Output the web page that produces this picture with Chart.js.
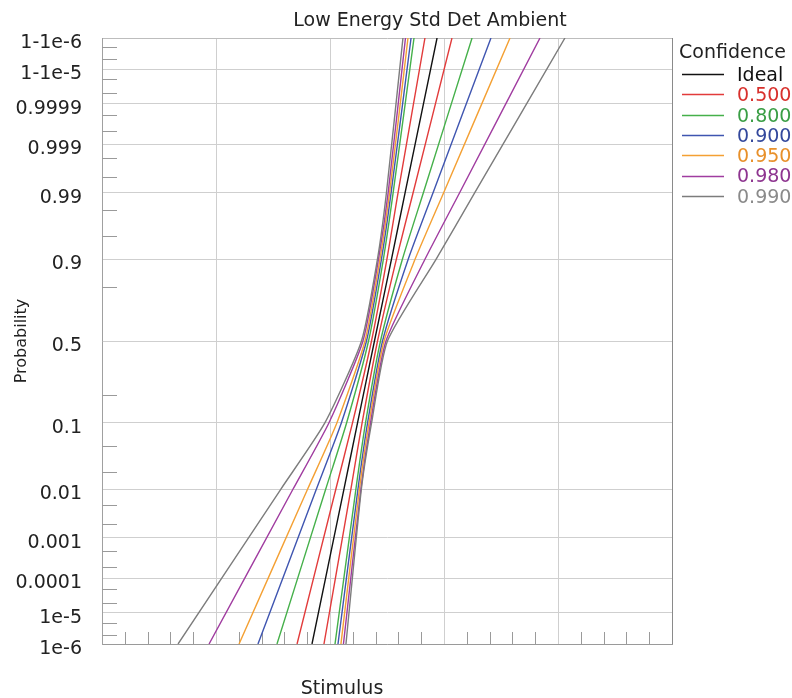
<!DOCTYPE html>
<html>
<head>
<meta charset="utf-8">
<script src="https://cdn.jsdelivr.net/npm/chart.js@4.4.0/dist/chart.umd.min.js"></script>
<style>
  body { margin: 0; background: #fff; }
</style>
</head>
<body>
<canvas id="probChart" width="792" height="698"></canvas>
<script>
const levelProbs = [1e-6, 0.01, 0.1, 0.5, 0.9, 0.99, 1 - 1e-6];

// stimulus values (arbitrary units, axis 0..50) at each level
const idealX = [18.42, 21.22, 22.42, 23.90, 25.39, 26.59, 29.39];
const c500Lo = [17.11, 20.51, 21.98, 23.64, 24.99, 25.97, 28.33];
const c500Hi = [19.47, 21.83, 22.82, 24.17, 25.82, 27.29, 30.70];
const c800Lo = [15.35, 19.62, 21.46, 23.38, 24.68, 25.54, 27.37];
const c800Hi = [20.44, 22.27, 23.12, 24.43, 26.35, 28.19, 32.46];
const c900Lo = [13.68, 18.80, 21.00, 23.20, 24.51, 25.36, 27.11];
const c900Hi = [20.70, 22.45, 23.30, 24.61, 26.86, 29.04, 34.12];
const c950Lo = [12.02, 18.03, 20.61, 23.07, 24.38, 25.23, 26.84];
const c950Hi = [20.96, 22.58, 23.43, 24.74, 27.46, 29.97, 35.79];
const c980Lo = [9.39, 16.75, 19.91, 22.89, 24.25, 25.10, 26.62];
const c980Hi = [21.18, 22.71, 23.56, 24.91, 28.33, 31.37, 38.42];
const c990Lo = [6.67, 15.68, 19.56, 22.76, 24.16, 24.95, 26.40];
const c990Hi = [21.40, 22.75, 23.65, 25.04, 29.30, 32.70, 40.61];

const legendLabels = ["Ideal", "0.500", "0.800", "0.900", "0.950", "0.980", "0.990"];
const lineColors = ["#111111", "#e23b3b", "#45b04a", "#3f55b0", "#f4a033", "#a03ca0", "#7c7c7c"];
const textColors = ["#111111", "#d8302c", "#3a9e45", "#33489c", "#e8902a", "#8e3590", "#8a8a8a"];

const yTickProbs = [1e-6, 1e-5, 1e-4, 1e-3, 0.01, 0.1, 0.5, 0.9, 0.99, 0.999, 0.9999, 1 - 1e-5, 1 - 1e-6];
const yTickLabels = ["1e-6", "1e-5", "0.0001", "0.001", "0.01", "0.1", "0.5", "0.9", "0.99", "0.999", "0.9999", "1-1e-5", "1-1e-6"];
const yMinorProbs = [2e-6, 5e-6, 2e-5, 5e-5, 2e-4, 5e-4, 0.002, 0.005, 0.02, 0.05, 0.2,
  0.8, 0.95, 0.98, 0.995, 0.998, 0.9995, 0.9998, 0.99995, 0.99998, 0.999995, 0.999998];
const xMajorTicks = [0, 10, 20, 30, 40, 50];
const xMinorTicks = [2, 4, 6, 8, 12, 14, 16, 18, 22, 24, 26, 28, 32, 34, 36, 38, 42, 44, 46, 48];

// inverse normal cdf (Acklam), used for the probit y axis
function probit(p) {
  const a = [-39.69683028665376, 220.9460984245205, -275.9285104469687, 138.3577518672690, -30.66479806614716, 2.506628277459239];
  const b = [-54.47609879822406, 161.5858368580409, -155.6989798598866, 66.80131188771972, -13.28068155288572];
  const c = [-0.007784894002430293, -0.3223964580411365, -2.400758277161838, -2.549671010739305, 4.374664141464968, 2.938163982698783];
  const d = [0.007784695709041462, 0.3224671290700398, 2.445134137142996, 3.754408661907416];
  const tail = q => (((((c[0] * q + c[1]) * q + c[2]) * q + c[3]) * q + c[4]) * q + c[5]) /
    ((((d[0] * q + d[1]) * q + d[2]) * q + d[3]) * q + 1);
  if (p < 0.02425) return tail(Math.sqrt(-2 * Math.log(p)));
  if (p > 1 - 0.02425) return -tail(Math.sqrt(-2 * Math.log(1 - p)));
  const q = p - 0.5, r = q * q;
  return (((((a[0] * r + a[1]) * r + a[2]) * r + a[3]) * r + a[4]) * r + a[5]) * q /
    (((((b[0] * r + b[1]) * r + b[2]) * r + b[3]) * r + b[4]) * r + 1);
}

const zMin = probit(1e-6);
const zMax = -zMin;
const levelZ = levelProbs.map((p, i) => i === levelProbs.length - 1 ? zMax : (i === 0 ? zMin : probit(p)));
const toPoints = xs => xs.map((x, i) => ({ x, y: levelZ[i] }));

const bounds = [[c500Lo, c500Hi], [c800Lo, c800Hi], [c900Lo, c900Hi], [c950Lo, c950Hi], [c980Lo, c980Hi], [c990Lo, c990Hi]];
const datasets = [];
bounds.slice().reverse().forEach((pair, k) => {
  const i = bounds.length - k;
  pair.forEach(xs => datasets.push({ label: legendLabels[i], data: toPoints(xs), borderColor: lineColors[i] }));
});
datasets.push({ label: legendLabels[0], data: toPoints(idealX), borderColor: lineColors[0] });

const decor = {
  id: "decor",
  beforeDatasetsDraw(chart) {
    const { ctx, chartArea: a, scales: { x, y } } = chart;
    ctx.save();
    ctx.strokeStyle = "#9a9a9a";
    ctx.lineWidth = 1;
    ctx.beginPath();
    yMinorProbs.forEach(p => {
      const py = Math.round(y.getPixelForValue(probit(p))) + 0.5;
      ctx.moveTo(a.left, py);
      ctx.lineTo(a.left + 15, py);
    });
    xMinorTicks.forEach(v => {
      const px = Math.round(x.getPixelForValue(v)) + 0.5;
      ctx.moveTo(px, a.bottom);
      ctx.lineTo(px, a.bottom - 12);
    });
    ctx.stroke();
    ctx.restore();
  },
  afterDraw(chart) {
    const { ctx } = chart;
    ctx.save();
    ctx.font = "19px 'DejaVu Sans'";
    ctx.fillStyle = "#222";
    ctx.textBaseline = "middle";
    ctx.textAlign = "center";
    ctx.fillText("Low Energy Std Det Ambient", 430, 21);
    ctx.fillText("Stimulus", 342, 689);

    ctx.textAlign = "left";
    ctx.fillText("Confidence", 679, 53);
    legendLabels.forEach((lbl, i) => {
      const yy = 76 + i * 20.3;
      ctx.strokeStyle = lineColors[i];
      ctx.lineWidth = 1.5;
      ctx.beginPath();
      ctx.moveTo(682, Math.round(yy) - 1.5);
      ctx.lineTo(724, Math.round(yy) - 1.5);
      ctx.stroke();
      ctx.fillStyle = textColors[i];
      ctx.fillText(lbl, 737, yy);
    });
    ctx.restore();
  }
};

Chart.defaults.font.family = "'DejaVu Sans', sans-serif";

new Chart(document.getElementById("probChart"), {
  type: "line",
  data: { datasets },
  options: {
    responsive: false,
    animation: false,
    layout: { padding: { top: 38, right: 120, left: 0, bottom: 0 } },
    plugins: { legend: { display: false }, title: { display: false }, tooltip: { enabled: false } },
    elements: { point: { radius: 0 }, line: { borderWidth: 1.4, tension: 0.2 } },
    scales: {
      x: {
        type: "linear",
        min: 0,
        max: 50,
        afterBuildTicks: s => { s.ticks = xMajorTicks.map(v => ({ value: v })); },
        afterFit: s => { s.height = 54; },
        ticks: { display: false },
        grid: { drawTicks: false, color: c => (c.tick && c.tick.value === 50 ? "#8a8a8a" : "#cfcfcf") },
        border: { display: true, color: "#9a9a9a" }
      },
      y: {
        type: "linear",
        min: zMin,
        max: zMax,
        afterBuildTicks: s => { s.ticks = yTickProbs.map((p, i) => ({ value: i === 0 ? zMin : (i === yTickProbs.length - 1 ? zMax : probit(p)) })); },
        afterFit: s => { s.width = 102; },
        ticks: {
          autoSkip: false,
          padding: 20,
          labelOffset: 5,
          color: "#222",
          font: { size: 19 },
          callback: (v, i) => yTickLabels[i]
        },
        grid: { drawTicks: false, color: c => (c.tick && c.tick.value === zMax ? "#bdbdbd" : "#cfcfcf") },
        border: { display: true, color: "#a0a0a0" },
        title: { display: true, text: "Probability", color: "#222", font: { size: 16 }, padding: { top: 12, bottom: 0 } }
      }
    }
  },
  plugins: [decor]
});
</script>
</body>
</html>
